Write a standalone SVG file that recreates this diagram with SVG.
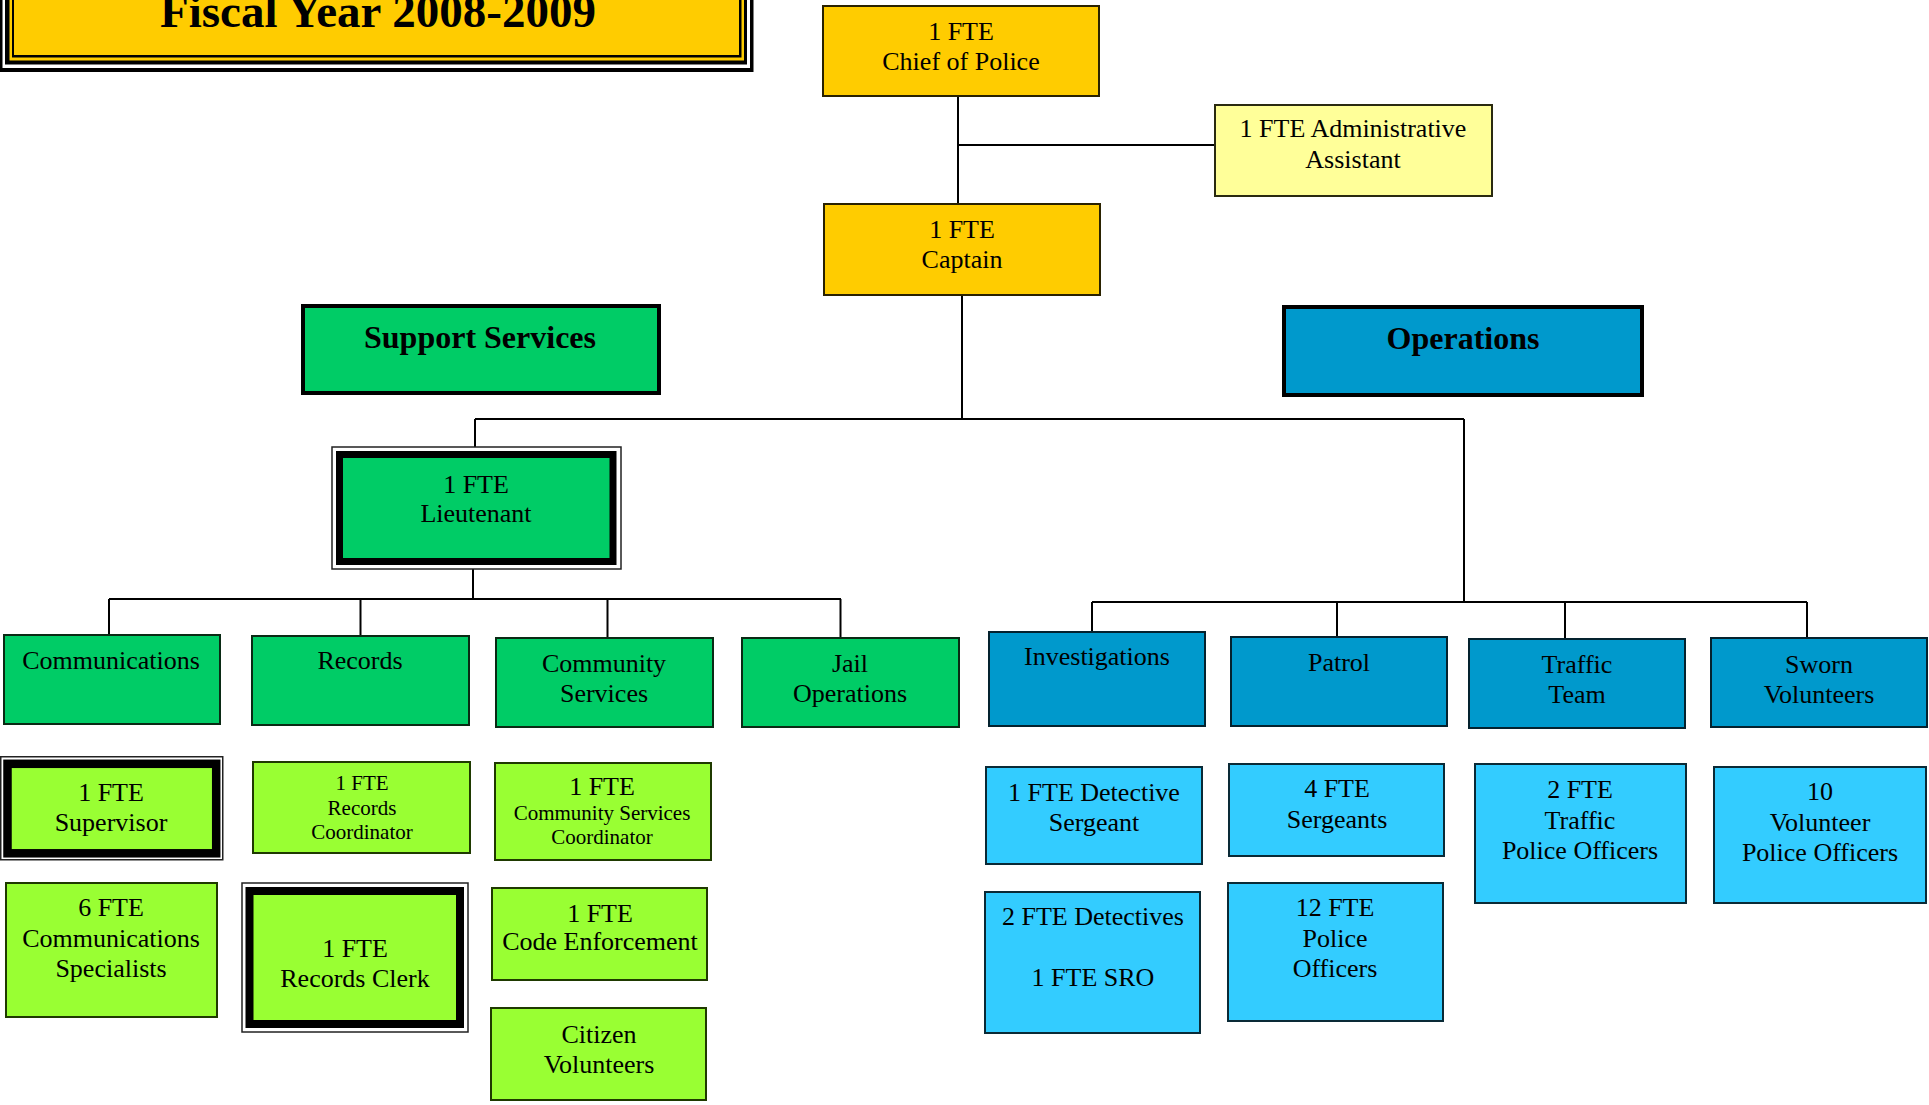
<svg xmlns="http://www.w3.org/2000/svg" width="1929" height="1105" viewBox="0 0 1929 1105">
<style>
text{font-family:"Liberation Serif","Times New Roman",serif;font-size:26px;fill:#000;text-anchor:middle}
.sm{font-size:21px}
.hd{font-size:32px;font-weight:bold}
.gold{fill:#FFCC00;stroke:#2a2200;stroke-width:2}
.pale{fill:#FFFF99;stroke:#2a2a10;stroke-width:2}
.grn{fill:#00CC66;stroke:#0a2a14;stroke-width:2}
.lime{fill:#99FF33;stroke:#1f3a00;stroke-width:2}
.blue{fill:#0099CC;stroke:#04222e;stroke-width:2}
.lblue{fill:#33CCFF;stroke:#0a2a36;stroke-width:2}
.thin{fill:#fff;stroke:#222;stroke-width:1.5}
.conn{fill:none;stroke:#000;stroke-width:2}
</style>
<rect width="1929" height="1105" fill="#fff"/>

<g id="title">
<rect x="-20" y="-20" width="773.5" height="92" fill="#000"/>
<rect x="2.5" y="-20" width="747.5" height="88" fill="#fff"/>
<rect x="5" y="-20" width="742" height="84.5" fill="#000"/>
<rect x="9.5" y="-20" width="734.5" height="80.5" fill="#FFCC00"/>
<rect x="12" y="-20" width="729.5" height="77.5" fill="#000"/>
<rect x="14" y="-20" width="725" height="75" fill="#FFCC00"/>
<text x="378" y="27" style="font-size:47px;font-weight:bold">Fiscal Year 2008-2009</text>
</g>

<g id="connectors" class="conn">
<path d="M958 96V204"/>
<path d="M958 145H1215"/>
<path d="M962 295V419"/>
<path d="M475 419H1464"/>
<path d="M475 419V447"/>
<path d="M1464 419V602"/>
<path d="M473 569V599"/>
<path d="M109 599H841"/>
<path d="M109 599V635"/>
<path d="M360.5 599V636"/>
<path d="M607.5 599V638"/>
<path d="M840.5 599V638"/>
<path d="M1092 602H1807"/>
<path d="M1092 602V634"/>
<path d="M1337 602V637"/>
<path d="M1565 602V639"/>
<path d="M1807 602V638"/>
</g>

<g id="chief"><rect class="gold" x="823" y="6" width="276" height="90"/><text x="961" y="40">1 FTE</text><text x="961" y="70">Chief of Police</text></g>
<g id="admin"><rect class="pale" x="1215" y="105" width="277" height="91"/><text x="1353" y="137">1 FTE Administrative</text><text x="1353" y="168">Assistant</text></g>
<g id="captain"><rect class="gold" x="824" y="204" width="276" height="91"/><text x="962" y="238">1 FTE</text><text x="962" y="268">Captain</text></g>

<g id="support-services"><rect x="303" y="306" width="356" height="87" fill="#00CC66" stroke="#000" stroke-width="4"/><text class="hd" x="480" y="348">Support Services</text></g>
<g id="operations"><rect x="1284" y="307" width="358" height="88" fill="#0099CC" stroke="#000" stroke-width="4"/><text class="hd" x="1463" y="349">Operations</text></g>

<g id="lieutenant"><rect class="thin" x="332" y="447" width="289" height="122"/><rect x="339.5" y="454.5" width="273.5" height="107" fill="#00CC66" stroke="#000" stroke-width="7"/><text x="476" y="493">1 FTE</text><text x="476" y="522">Lieutenant</text></g>

<g id="communications"><rect class="grn" x="4" y="635" width="216" height="89"/><text x="111" y="669">Communications</text></g>
<g id="records"><rect class="grn" x="252" y="636" width="217" height="89"/><text x="360" y="669">Records</text></g>
<g id="community-services"><rect class="grn" x="496" y="638" width="217" height="89"/><text x="604" y="672">Community</text><text x="604" y="702">Services</text></g>
<g id="jail-operations"><rect class="grn" x="742" y="638" width="217" height="89"/><text x="850" y="672">Jail</text><text x="850" y="702">Operations</text></g>

<g id="investigations"><rect class="blue" x="989" y="632" width="216" height="94"/><text x="1097" y="665">Investigations</text></g>
<g id="patrol"><rect class="blue" x="1231" y="637" width="216" height="89"/><text x="1339" y="671">Patrol</text></g>
<g id="traffic-team"><rect class="blue" x="1469" y="639" width="216" height="89"/><text x="1577" y="673">Traffic</text><text x="1577" y="703">Team</text></g>
<g id="sworn-volunteers"><rect class="blue" x="1711" y="638" width="216" height="89"/><text x="1819" y="673">Sworn</text><text x="1819" y="703">Volunteers</text></g>

<g id="supervisor"><rect class="thin" x="0.75" y="756.75" width="222" height="103"/><rect x="7.5" y="763.8" width="208.7" height="89.5" fill="#99FF33" stroke="#000" stroke-width="8.5"/><text x="111" y="801">1 FTE</text><text x="111" y="831">Supervisor</text></g>
<g id="records-coordinator"><rect class="lime" x="253" y="762" width="217" height="91"/><text class="sm" x="362" y="790">1 FTE</text><text class="sm" x="362" y="815">Records</text><text class="sm" x="362" y="839">Coordinator</text></g>
<g id="community-services-coordinator"><rect class="lime" x="495" y="763" width="216" height="97"/><text x="602" y="795">1 FTE</text><text class="sm" x="602" y="820">Community Services</text><text class="sm" x="602" y="844">Coordinator</text></g>
<g id="communications-specialists"><rect class="lime" x="6" y="883" width="211" height="134"/><text x="111" y="916">6 FTE</text><text x="111" y="947">Communications</text><text x="111" y="977">Specialists</text></g>
<g id="records-clerk"><rect class="thin" x="242" y="883" width="226" height="149"/><rect x="249.5" y="891" width="210.5" height="133" fill="#99FF33" stroke="#000" stroke-width="8"/><text x="355" y="957">1 FTE</text><text x="355" y="987">Records Clerk</text></g>
<g id="code-enforcement"><rect class="lime" x="492" y="888" width="215" height="92"/><text x="600" y="922">1 FTE</text><text x="600" y="950">Code Enforcement</text></g>
<g id="citizen-volunteers"><rect class="lime" x="491" y="1008" width="215" height="92"/><text x="599" y="1043">Citizen</text><text x="599" y="1073">Volunteers</text></g>

<g id="detective-sergeant"><rect class="lblue" x="986" y="767" width="216" height="97"/><text x="1094" y="801">1 FTE Detective</text><text x="1094" y="831">Sergeant</text></g>
<g id="detectives-sro"><rect class="lblue" x="985" y="892" width="215" height="141"/><text x="1093" y="925">2 FTE Detectives</text><text x="1093" y="986">1 FTE SRO</text></g>
<g id="sergeants"><rect class="lblue" x="1229" y="764" width="215" height="92"/><text x="1337" y="797">4 FTE</text><text x="1337" y="828">Sergeants</text></g>
<g id="police-officers"><rect class="lblue" x="1228" y="883" width="215" height="138"/><text x="1335" y="916">12 FTE</text><text x="1335" y="947">Police</text><text x="1335" y="977">Officers</text></g>
<g id="traffic-officers"><rect class="lblue" x="1475" y="764" width="211" height="139"/><text x="1580" y="798">2 FTE</text><text x="1580" y="829">Traffic</text><text x="1580" y="859">Police Officers</text></g>
<g id="volunteer-officers"><rect class="lblue" x="1714" y="767" width="212" height="136"/><text x="1820" y="800">10</text><text x="1820" y="831">Volunteer</text><text x="1820" y="861">Police Officers</text></g>
</svg>
